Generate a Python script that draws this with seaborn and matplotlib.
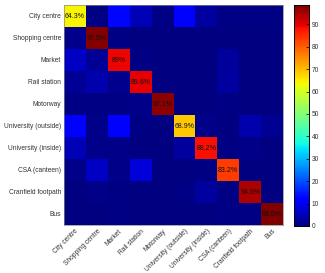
import numpy as np
import matplotlib
matplotlib.use("Agg")
import matplotlib.pyplot as plt
import seaborn as sns

labels = ["City centre", "Shopping centre", "Market", "Rail station", "Motorway",
          "University (outside)", "University (inside)", "CSA (canteen)",
          "Cranfield footpath", "Bus"]

row_city = [64.3, 0.5, 13.0, 5.0, 0.5, 12.0, 3.0, 0.5, 0.5, 0.4]
row_shop = [1.5, 97.9, 0.5, 0.0, 0.0, 0.0, 0.0, 0.0, 0.0, 0.1]
row_market = [6.0, 2.0, 89.0, 0.5, 0.0, 0.0, 0.0, 2.5, 0.0, 0.0]
row_rail = [2.0, 4.0, 1.5, 89.6, 0.0, 0.0, 0.0, 2.9, 0.0, 0.0]
row_motorway = [0.5, 0.5, 0.5, 1.0, 97.1, 0.0, 0.0, 0.4, 0.0, 0.0]
row_uni_out = [12.0, 1.0, 11.0, 0.5, 0.0, 68.9, 1.0, 0.0, 4.0, 1.6]
row_uni_in = [5.0, 1.0, 1.0, 0.0, 0.0, 3.0, 88.2, 0.5, 1.0, 0.3]
row_csa = [1.0, 6.0, 1.0, 8.0, 0.0, 0.0, 0.5, 83.2, 0.3, 0.0]
row_footpath = [0.0, 1.0, 0.5, 0.0, 0.0, 0.5, 3.0, 0.4, 94.6, 0.0]
row_bus = [0.0, 0.0, 0.4, 0.0, 0.0, 0.0, 0.0, 0.5, 0.5, 98.6]

rows = [row_city, row_shop, row_market, row_rail, row_motorway, row_uni_out,
        row_uni_in, row_csa, row_footpath, row_bus]
M = np.array(rows)
n = len(labels)
annot = np.full((n, n), "", dtype=object)
for i in range(n):
    annot[i, i] = "%g%%" % M[i, i]

plt.rcParams['font.family'] = ['Liberation Sans', 'DejaVu Sans']

W, H = 325, 273
fig = plt.figure(figsize=(W / 100, H / 100), dpi=100)
ax = fig.add_axes([64 / W, 1 - 225 / H, (283 - 64) / W, (225 - 5) / H])
cax = fig.add_axes([294 / W, 1 - 226 / H, (309 - 294) / W, (226 - 5) / H])

sns.heatmap(M, ax=ax, cbar_ax=cax, cmap="jet", vmin=0, vmax=98.6,
            annot=annot, fmt="", annot_kws={"fontsize": 5, "color": "#111111"},
            xticklabels=labels, yticklabels=labels, square=False)

ax.set_xticklabels(labels, rotation=45, ha="right", rotation_mode="anchor",
                   fontsize=4.8, color="#333333")
ax.set_yticklabels(labels, rotation=0, fontsize=4.8, color="#333333")
ax.tick_params(length=0, pad=2)
for s in ax.spines.values():
    s.set_visible(True)
    s.set_linewidth(0.5)
    s.set_color("#888888")

cax.set_yticks(range(0, 100, 10))
cax.tick_params(labelsize=4.8, labelcolor="#333333", length=2, width=0.5,
                direction="in", pad=2)
for s in cax.spines.values():
    s.set_visible(True)
    s.set_linewidth(0.6)
    s.set_color("black")

fig.savefig("out.png", dpi=100)
